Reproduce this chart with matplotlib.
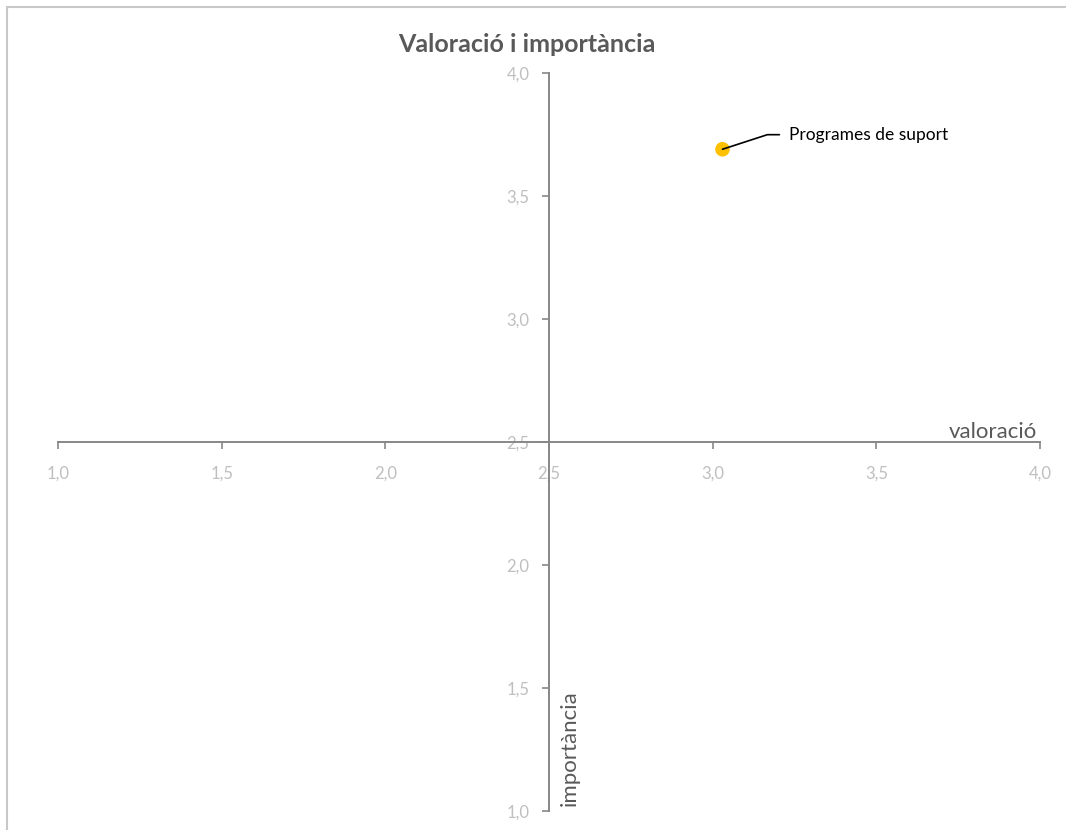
import matplotlib
matplotlib.use("Agg")
import matplotlib.pyplot as plt
from matplotlib.ticker import FuncFormatter
from matplotlib.patches import Rectangle

plt.rcParams['font.family'] = ['Lato', 'DejaVu Sans']

labels = ["Programes de suport"]
valoracio = [3.03]
importancia = [3.69]
x_ticks = [1.0, 1.5, 2.0, 2.5, 3.0, 3.5, 4.0]
y_ticks = [1.0, 1.5, 2.0, 2.5, 3.0, 3.5, 4.0]

fig = plt.figure(figsize=(10.66, 8.30), dpi=100)
# chart area border
fig.patches.append(Rectangle((7/1066, -0.01), 1.1, 1 - 7/830 + 0.01, transform=fig.transFigure,
                             fill=False, edgecolor='#C8C8C8', linewidth=1.5))

ax = fig.add_axes([58/1066, 1 - 811/830, (1040 - 58)/1066, (811 - 73)/830])
ax.set_xlim(1.0, 4.0)
ax.set_ylim(1.0, 4.0)

ax.scatter(valoracio, importancia, s=110, color='#FFC000', zorder=3, edgecolors='none')

for lab, xv, yv in zip(labels, valoracio, importancia):
    ax.annotate(lab, xy=(xv, yv), xytext=(48, 10.5), textcoords='offset points',
                fontsize=12.5, color='#000000', va='center', ha='left',
                arrowprops=dict(arrowstyle='-', color='#000000', lw=1.2,
                                connectionstyle='angle,angleA=0,angleB=18,rad=0',
                                shrinkA=5, shrinkB=0))

for s in ['top', 'right']:
    ax.spines[s].set_visible(False)
ax.spines['left'].set_position(('data', 2.5))
ax.spines['bottom'].set_position(('data', 2.5))
for s in ['left', 'bottom']:
    ax.spines[s].set_color('#878787')
    ax.spines[s].set_linewidth(1.4)

ax.set_xticks(x_ticks)
ax.set_yticks(y_ticks)
fmt = FuncFormatter(lambda v, p: f"{v:.1f}".replace('.', ','))
ax.xaxis.set_major_formatter(fmt)
ax.yaxis.set_major_formatter(fmt)
ax.tick_params(axis='both', direction='out', length=5, width=1.2, color='#878787',
               labelcolor='#BFBFBF', labelsize=12)
ax.tick_params(axis='x', pad=12)
ax.tick_params(axis='y', pad=9)

ax.text(1037/1066, 1 - 432/830, "valoració", transform=fig.transFigure, ha='right', va='center',
        fontsize=16, color='#595959')
ax.text(570/1066, 1 - 806/830, "importància", transform=fig.transFigure, ha='center', va='bottom',
        rotation=90, fontsize=16, color='#595959')

fig.text(527/1066, 1 - 45/830, "Valoració i importància", ha='center', va='center',
         fontsize=18, fontweight='bold', color='#595959')

fig.savefig("out.png", dpi=100)
